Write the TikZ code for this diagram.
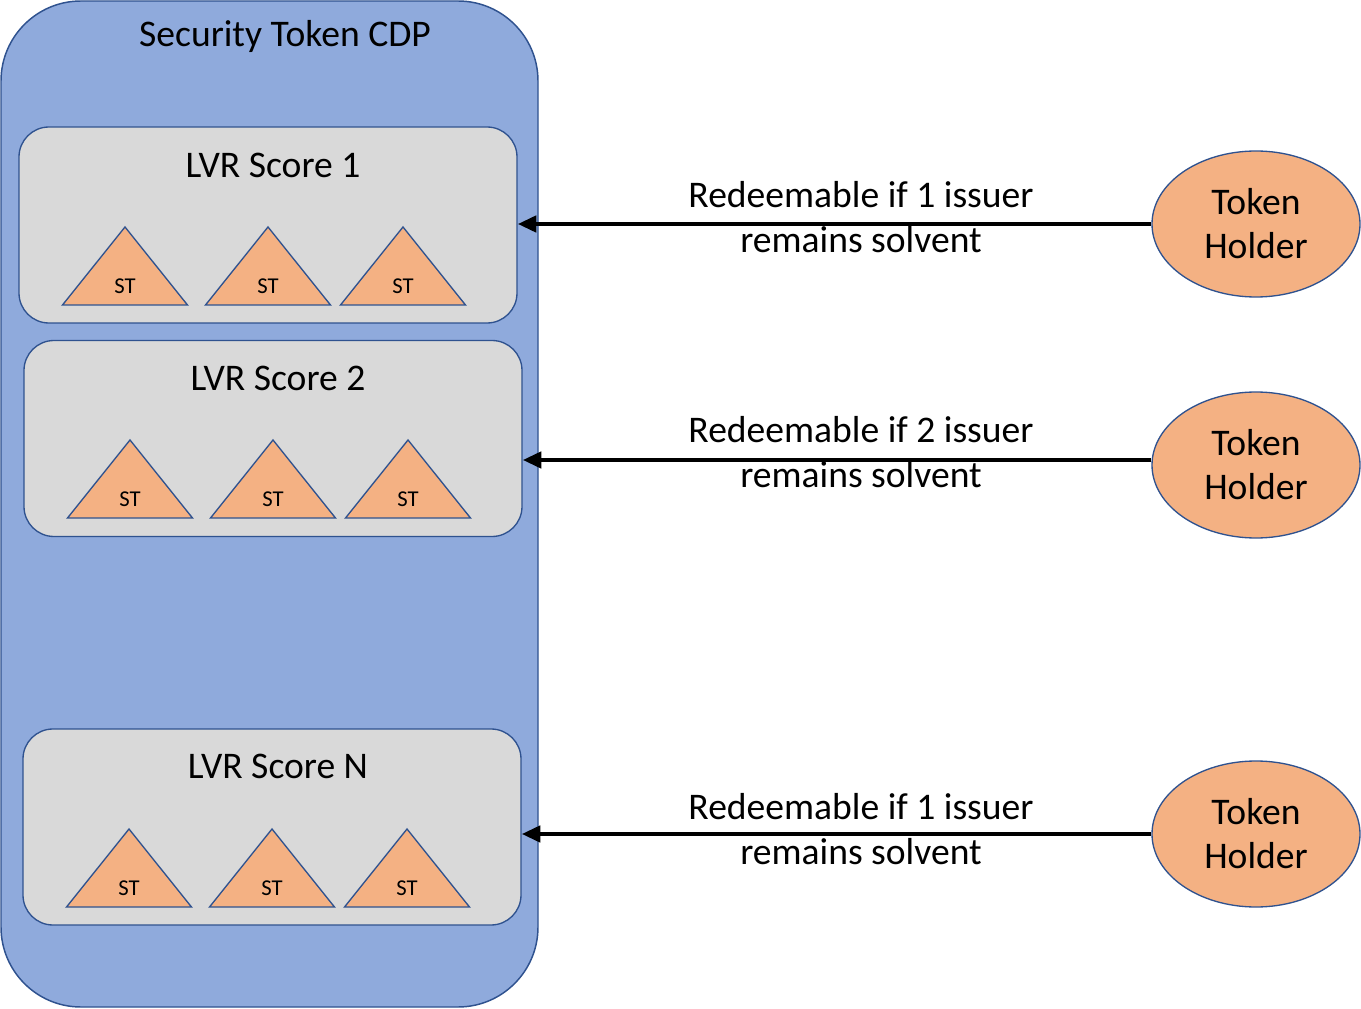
\documentclass[tikz,border=0pt]{standalone}
\usepackage{fontspec}
\setmainfont{Carlito}
\usetikzlibrary{shapes.geometric,arrows.meta}
\definecolor{outerfill}{HTML}{8FAADC}
\definecolor{bordblue}{HTML}{2F528F}
\definecolor{boxfill}{HTML}{D9D9D9}
\definecolor{orangefill}{HTML}{F4B183}
\tikzset{
  outerbox/.style={draw=bordblue, fill=outerfill, line width=1.1pt, rounded corners=60pt,
    minimum width=402.75pt, minimum height=754.5pt, inner sep=0pt},
  scorebox/.style={draw=bordblue, fill=boxfill, line width=1pt, rounded corners=22.5pt,
    minimum width=373.5pt, minimum height=147pt, inner sep=0pt},
  bigtext/.style={font=\fontsize{28.2pt}{34pt}\selectfont, inner sep=0pt, align=center},
  sttext/.style={font=\fontsize{17pt}{20pt}\selectfont, inner sep=0pt},
  stri/.style={draw=bordblue, fill=orangefill, line width=1pt, line join=miter},
  holder/.style={ellipse, draw=bordblue, fill=orangefill, line width=1pt,
    minimum width=156pt, minimum height=109.5pt, inner sep=0pt, align=center,
    font=\fontsize{28.2pt}{33pt}\selectfont},
  redeem/.style={-{Triangle[length=14pt,width=12pt]}, line width=3.4pt, black},
}
\newcommand{\sttri}[3]{%
  \draw[stri] (#1,#2) -- (#1+62.5,#2+78) -- (#1-62.5,#2+78) -- cycle;
  \node[sttext] (#3) at (#1,#2+59) {ST};
}
\begin{document}
\begin{tikzpicture}[x=0.75pt,y=-0.75pt]
\useasboundingbox (0,0) rectangle (1361,1009);
\node[outerbox] (cdp) at (269.5,504) {};
\node[bigtext] (cdptitle) at (285,36) {Security Token CDP};

\node[scorebox] (box1) at (268,225) {};
\node[bigtext] (t1) at (273,165) {LVR Score 1};
\sttri{125}{227}{s11}
\sttri{268}{227}{s12}
\sttri{403}{227}{s13}

\node[scorebox] (box2) at (273,438.5) {};
\node[bigtext] (t2) at (278,378) {LVR Score 2};
\sttri{130}{440}{s21}
\sttri{273}{440}{s22}
\sttri{408}{440}{s23}

\node[scorebox] (boxn) at (272,827) {};
\node[bigtext] (tn) at (278,766) {LVR Score N};
\sttri{129}{829}{sn1}
\sttri{272}{829}{sn2}
\sttri{407}{829}{sn3}

\node[holder] (h1) at (1256,224) {Token\\Holder};
\node[holder] (h2) at (1256,465) {Token\\Holder};
\node[holder] (h3) at (1256,834) {Token\\Holder};

\draw[redeem] (h1.west) -- (h1.west -| box1.east);
\draw[redeem] (h2.west |- 0,460) -- (box2.east |- 0,460);
\draw[redeem] (h3.west) -- (h3.west -| boxn.east);

\node[bigtext] (l1) at (861,217) {Redeemable if 1 issuer\\remains solvent};
\node[bigtext] (l2) at (861,452) {Redeemable if 2 issuer\\remains solvent};
\node[bigtext] (l3) at (861,829) {Redeemable if 1 issuer\\remains solvent};
\end{tikzpicture}
\end{document}
